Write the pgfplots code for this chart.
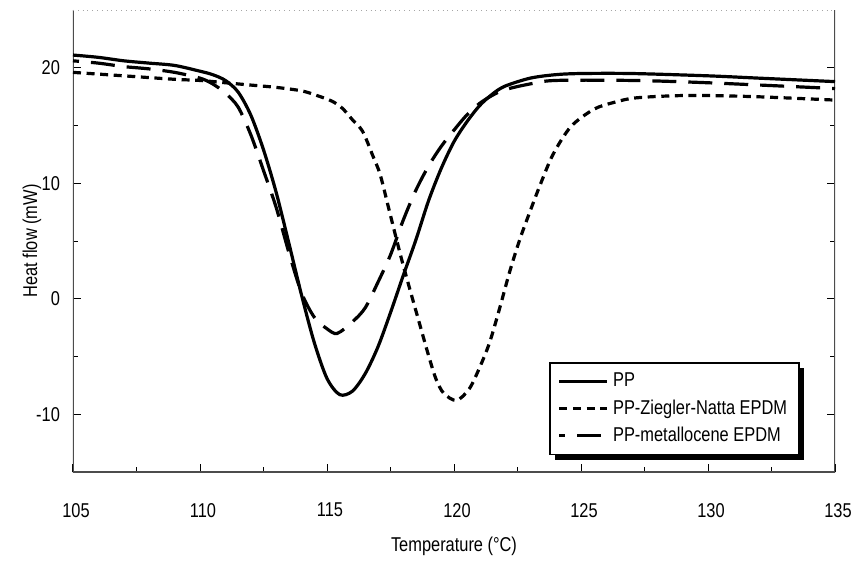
\documentclass[border=0pt]{standalone}
\usepackage{pgfplots}
\pgfplotsset{compat=1.18}
\usepackage{fontspec}
\setmainfont{Liberation Sans}[FakeStretch=0.82]

\pgfplotstableread{
T v
105 21.1
106 20.9
107 20.6
108 20.4
109 20.2
110 19.7
110.5 19.4
111 18.9
111.5 17.9
112 15.9
112.5 12.9
113 9.2
113.5 4.8
114 0.3
114.5 -3.8
115 -6.9
115.5 -8.3
116 -8.0
116.5 -6.5
117 -4.2
117.5 -1.2
118 2.0
118.5 5.1
119 8.5
119.5 11.3
120 13.6
120.5 15.3
121 16.7
121.5 17.7
122 18.4
123 19.1
124 19.4
125 19.5
127 19.5
130 19.3
132 19.1
135 18.8
}\pp

\pgfplotstableread{
T v
105 19.6
107 19.3
109 19.0
110 18.9
111 18.7
112 18.5
113 18.3
114 18.0
114.6 17.6
115.2 17.1
115.6 16.5
116 15.5
116.4 14.5
116.8 12.4
117.1 10.7
117.5 7.2
118 2.9
118.7 -2.6
119.05 -5.3
119.3 -7.0
119.6 -8.2
120.1 -8.8
120.6 -7.8
121 -6.0
121.4 -3.8
121.8 -0.8
122.2 2.4
122.6 5.2
123.0 7.6
123.4 9.9
123.9 12.5
124.6 14.9
125.5 16.4
126.3 17.0
127.2 17.4
129.2 17.6
131.8 17.5
135 17.2
}\zn

\pgfplotstableread{
T v
105 20.6
106 20.4
107 20.1
108 19.9
109 19.6
110 19.1
110.5 18.6
111 17.8
111.5 16.6
112 14.2
112.5 11.1
113 7.9
113.5 4.0
114 0.5
114.5 -1.6
115 -2.6
115.4 -3.0
116 -2.0
116.5 -0.8
117 1.4
117.5 3.8
118 6.8
118.5 9.4
119 11.5
119.5 13.2
120 14.6
120.5 15.9
121 16.9
121.5 17.6
122 18.1
123 18.6
124 18.9
127 18.9
130 18.7
135 18.2
}\met

\begin{document}
\begin{tikzpicture}
\begin{axis}[name=ax, scale only axis, width=381pt, height=231pt,
  xmin=105, xmax=135, ymin=-15, ymax=25,
  xtick={105,110,...,135}, minor xtick={107.5,112.5,...,132.5},
  ytick={-10,0,10,20}, minor ytick={-5,5,15},
  xtick pos=bottom, ytick pos=both, tick align=inside,
  major tick length=4pt, minor tick length=2.5pt,
  tick style={black, line width=0.5pt},
  axis line style={draw=none},
  /pgf/number format/assume math mode=true,
  ticklabel style={font=\fontsize{10}{12}\selectfont},
  xticklabel style={yshift=-12pt, xshift=1.5pt},
  yticklabel style={xshift=-3pt},
  xlabel={Temperature (°C)}, ylabel={Heat flow (mW)},
  label style={font=\fontsize{10}{12}\selectfont},
  xlabel style={at={(axis description cs:0.5,-0.16)}, anchor=center},
  ylabel style={at={(axis description cs:-0.054,0.5)}, anchor=center},
  legend cell align=left,
  legend image code/.code={\draw[#1] (0pt,0pt) -- (24pt,0pt);},
  legend style={name=leg, at={(rel axis cs:0.954,0.036)}, anchor=south east,
    draw=black, line width=0.8pt, fill=white,
    font=\fontsize{10}{12}\selectfont, row sep=1pt,
    inner xsep=4pt, inner ysep=3pt},
]
\draw[line width=0.6pt, black!70] (rel axis cs:0,1) -- (rel axis cs:0,0) -- (rel axis cs:1,0) -- (rel axis cs:1,1);
\draw[line width=0.4pt, black!35, dotted] (rel axis cs:0,1) -- (rel axis cs:1,1);
\addplot[black, line width=1.6pt, smooth] table[x=T, y=v] {\pp};
\addlegendentry{PP}
\addplot[black, line width=1.6pt, smooth, dash pattern=on 4pt off 2.8pt] table[x=T, y=v] {\zn};
\addlegendentry{PP-Ziegler-Natta EPDM}
\addplot[black, line width=1.6pt, smooth, dash pattern=on 12pt off 6pt, dash phase=9pt] table[x=T, y=v] {\met};
\addlegendentry{PP-metallocene EPDM}
\end{axis}
\fill[black] ([xshift=3pt]leg.south west) rectangle ([shift={(2.2pt,-2.2pt)}]leg.south east);
\fill[black] ([yshift=-3pt]leg.north east) rectangle ([shift={(2.2pt,-2.2pt)}]leg.south east);
\pgfresetboundingbox
\path ([shift={(-36.5pt,-45pt)}]ax.south west) rectangle ([shift={(9.5pt,5pt)}]ax.north east);
\end{tikzpicture}
\end{document}
